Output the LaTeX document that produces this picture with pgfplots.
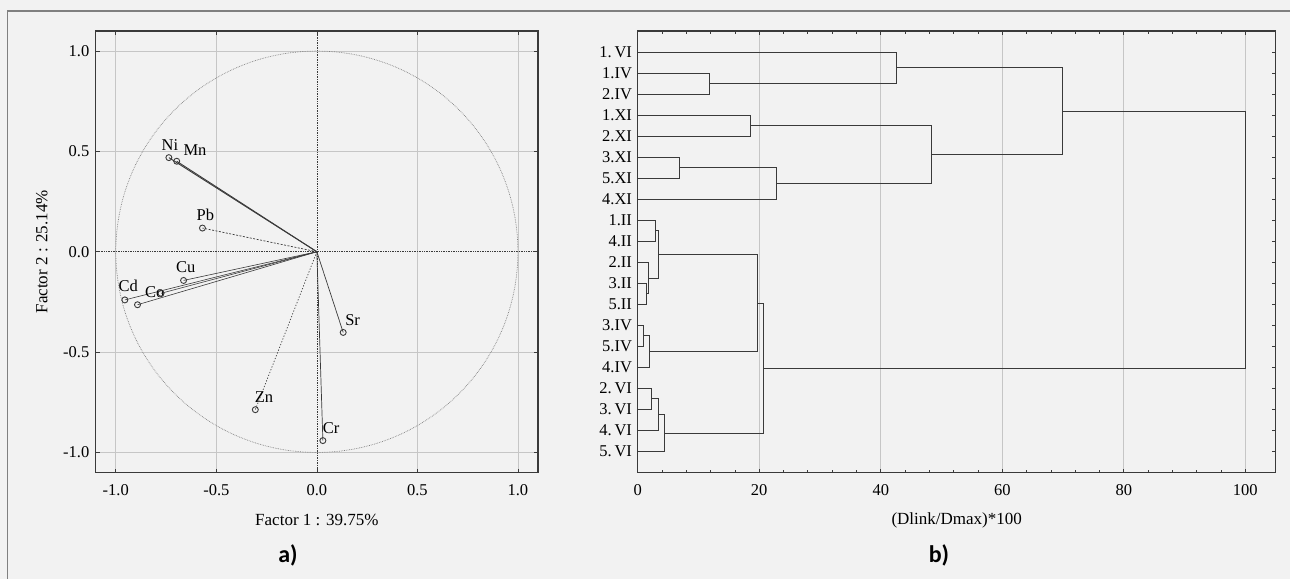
\documentclass[border=0pt]{standalone}
\usepackage{fontspec}
\setmainfont{Liberation Serif}
\newfontfamily\panelfont{Carlito}
\usepackage{pgfplots}
\pgfplotsset{compat=1.18}

\definecolor{bg}{HTML}{F2F2F2}
\definecolor{ink}{HTML}{3A3A3A}
\definecolor{gridc}{HTML}{C6C6C6}
\definecolor{frame}{HTML}{808080}

\tikzset{
  lbl/.style={pos=1, anchor=center, inner sep=0pt, text=black,
    font=\fontsize{16.5}{18}\selectfont},
}
\pgfplotsset{
  panel/.style={
    scale only axis,
    height=441.5pt,
    axis line style={ink, line width=1.1pt},
    tick align=inside,
    tick style={ink, line width=0.7pt},
    major tick length=4pt,
    minor tick length=2.5pt,
    ticklabel style={font=\fontsize{16.5}{18}\selectfont, text=black},
    xticklabel style={yshift=-8.4pt},
    label style={font=\fontsize{17}{19}\selectfont},
    grid style={gridc, line width=0.7pt},
    xlabel style={at={(axis description cs:0.5,-0.108)}, anchor=center},
  },
  vec/.style={ink, line width=0.7pt, mark=o, mark indices={2},
    mark size=3pt, mark options={solid, ink, line width=0.9pt}},
  link/.style={ink, line width=1pt},
}

\begin{document}
\begin{tikzpicture}[x=1pt,y=1pt]
\useasboundingbox (0,0) rectangle (1290,579);
\fill[bg] (0,0) rectangle (1290,579);
\draw[frame, line width=1.3pt] (7.7,0) -- (7.7,568) -- (1290,568);

% a) factor loadings
\begin{axis}[panel,
  at={(95.7pt,106.5pt)}, anchor=south west,
  width=442.3pt,
  xmin=-1.1, xmax=1.1, ymin=-1.1, ymax=1.1,
  xtick={-1,-0.5,0.5,1}, xticklabels={-1.0,-0.5,0.5,1.0},
  ytick={-1,-0.5,0.5,1}, yticklabels={-1.0,-0.5,0.5,1.0},
  extra x ticks={0}, extra x tick labels={0.0},
  extra y ticks={0}, extra y tick labels={0.0},
  extra tick style={grid style={ink, densely dotted, line width=0.7pt}},
  minor x tick num=4, minor y tick num=4,
  grid=major,
  yticklabel style={xshift=-2.9pt},
  xlabel={Factor 1 : 39.75\%},
  ylabel={Factor 2 : 25.14\%},
  ylabel style={at={(axis description cs:-0.122,0.5)}, anchor=center},
]
\draw[gray, densely dotted, line width=0.7pt] (axis cs:0,0) ellipse [x radius=1, y radius=1];

\addplot[vec, line width=0.9pt] coordinates {(0,0) (-0.736,0.469)} node[lbl, xshift=1pt, yshift=12.7pt] {Ni};
\addplot[vec, line width=0.9pt] coordinates {(0,0) (-0.697,0.451)} node[lbl, xshift=18.3pt, yshift=11.3pt] {Mn};
\addplot[vec, dash pattern=on 2pt off 1.5pt] coordinates {(0,0) (-0.569,0.118)} node[lbl, xshift=3pt, yshift=13.3pt] {Pb};
\addplot[vec, line width=0.6pt] coordinates {(0,0) (-0.663,-0.143)} node[lbl, xshift=2.3pt, yshift=13.4pt] {Cu};
\addplot[vec, line width=0.6pt] coordinates {(0,0) (-0.955,-0.240)} node[lbl, xshift=3.3pt, yshift=13.6pt] {Cd};
\addplot[vec, line width=0.6pt] coordinates {(0,0) (-0.775,-0.207)} node[lbl, xshift=-6.3pt, yshift=0.8pt] {Co};
\addplot[vec, line width=0.6pt] coordinates {(0,0) (-0.892,-0.264)};
\addplot[vec] coordinates {(0,0) (0.131,-0.402)} node[lbl, xshift=9.4pt, yshift=12.7pt] {Sr};
\addplot[vec, dash pattern=on 1.2pt off 1.8pt] coordinates {(0,0) (-0.306,-0.787)} node[lbl, xshift=8.7pt, yshift=12.3pt] {Zn};
\addplot[vec] coordinates {(0,0) (0.030,-0.941)} node[lbl, xshift=8.3pt, yshift=12.7pt] {Cr};
\end{axis}

% b) dendrogram
\begin{axis}[panel,
  at={(637.7pt,106.5pt)}, anchor=south west,
  width=638pt,
  xmin=0, xmax=105, ymin=0, ymax=21,
  y dir=reverse,
  xtick={0,20,40,60,80,100}, xticklabels={0,20,40,60,80,100},
  minor x tick num=4,
  ytick={1,...,20},
  yticklabels={1.\,VI,1.IV,2.IV,1.XI,2.XI,3.XI,5.XI,4.XI,1.II,4.II,2.II,3.II,5.II,3.IV,5.IV,4.IV,2.\,VI,3.\,VI,4.\,VI,5.\,VI},
  yticklabel style={xshift=-2.2pt},
  xmajorgrids,
  xlabel={(Dlink/Dmax)*100},
]
\addplot[link] coordinates {(0,2) (11.8,2) (11.8,3) (0,3)};
\addplot[link] coordinates {(0,1) (42.6,1) (42.6,2.5) (11.8,2.5)};
\addplot[link] coordinates {(0,4) (18.6,4) (18.6,5) (0,5)};
\addplot[link] coordinates {(0,6) (6.85,6) (6.85,7) (0,7)};
\addplot[link] coordinates {(6.85,6.5) (22.9,6.5) (22.9,8) (0,8)};
\addplot[link] coordinates {(18.6,4.5) (48.4,4.5) (48.4,7.25) (22.9,7.25)};
\addplot[link] coordinates {(42.6,1.75) (69.9,1.75) (69.9,5.875) (48.4,5.875)};
\addplot[link] coordinates {(0,9) (2.9,9) (2.9,10) (0,10)};
\addplot[link] coordinates {(0,12) (1.42,12) (1.42,13) (0,13)};
\addplot[link] coordinates {(0,11) (1.75,11) (1.75,12.5) (1.42,12.5)};
\addplot[link] coordinates {(2.9,9.5) (3.46,9.5) (3.46,11.75) (1.75,11.75)};
\addplot[link] coordinates {(0,14) (0.93,14) (0.93,15) (0,15)};
\addplot[link] coordinates {(0.93,14.5) (1.91,14.5) (1.91,16) (0,16)};
\addplot[link] coordinates {(3.46,10.625) (19.7,10.625) (19.7,15.25) (1.91,15.25)};
\addplot[link] coordinates {(0,17) (2.19,17) (2.19,18) (0,18)};
\addplot[link] coordinates {(2.19,17.5) (3.34,17.5) (3.34,19) (0,19)};
\addplot[link] coordinates {(3.34,18.25) (4.38,18.25) (4.38,20) (0,20)};
\addplot[link] coordinates {(19.7,12.9375) (20.7,12.9375) (20.7,19.125) (4.38,19.125)};
\addplot[link] coordinates {(69.9,3.8125) (100,3.8125) (100,16.03) (20.7,16.03)};
\end{axis}

\node[font=\panelfont\bfseries\fontsize{24}{26}\selectfont] at (288,24) {a)};
\node[font=\panelfont\bfseries\fontsize{24}{26}\selectfont] at (939,24) {b)};
\end{tikzpicture}
\end{document}
